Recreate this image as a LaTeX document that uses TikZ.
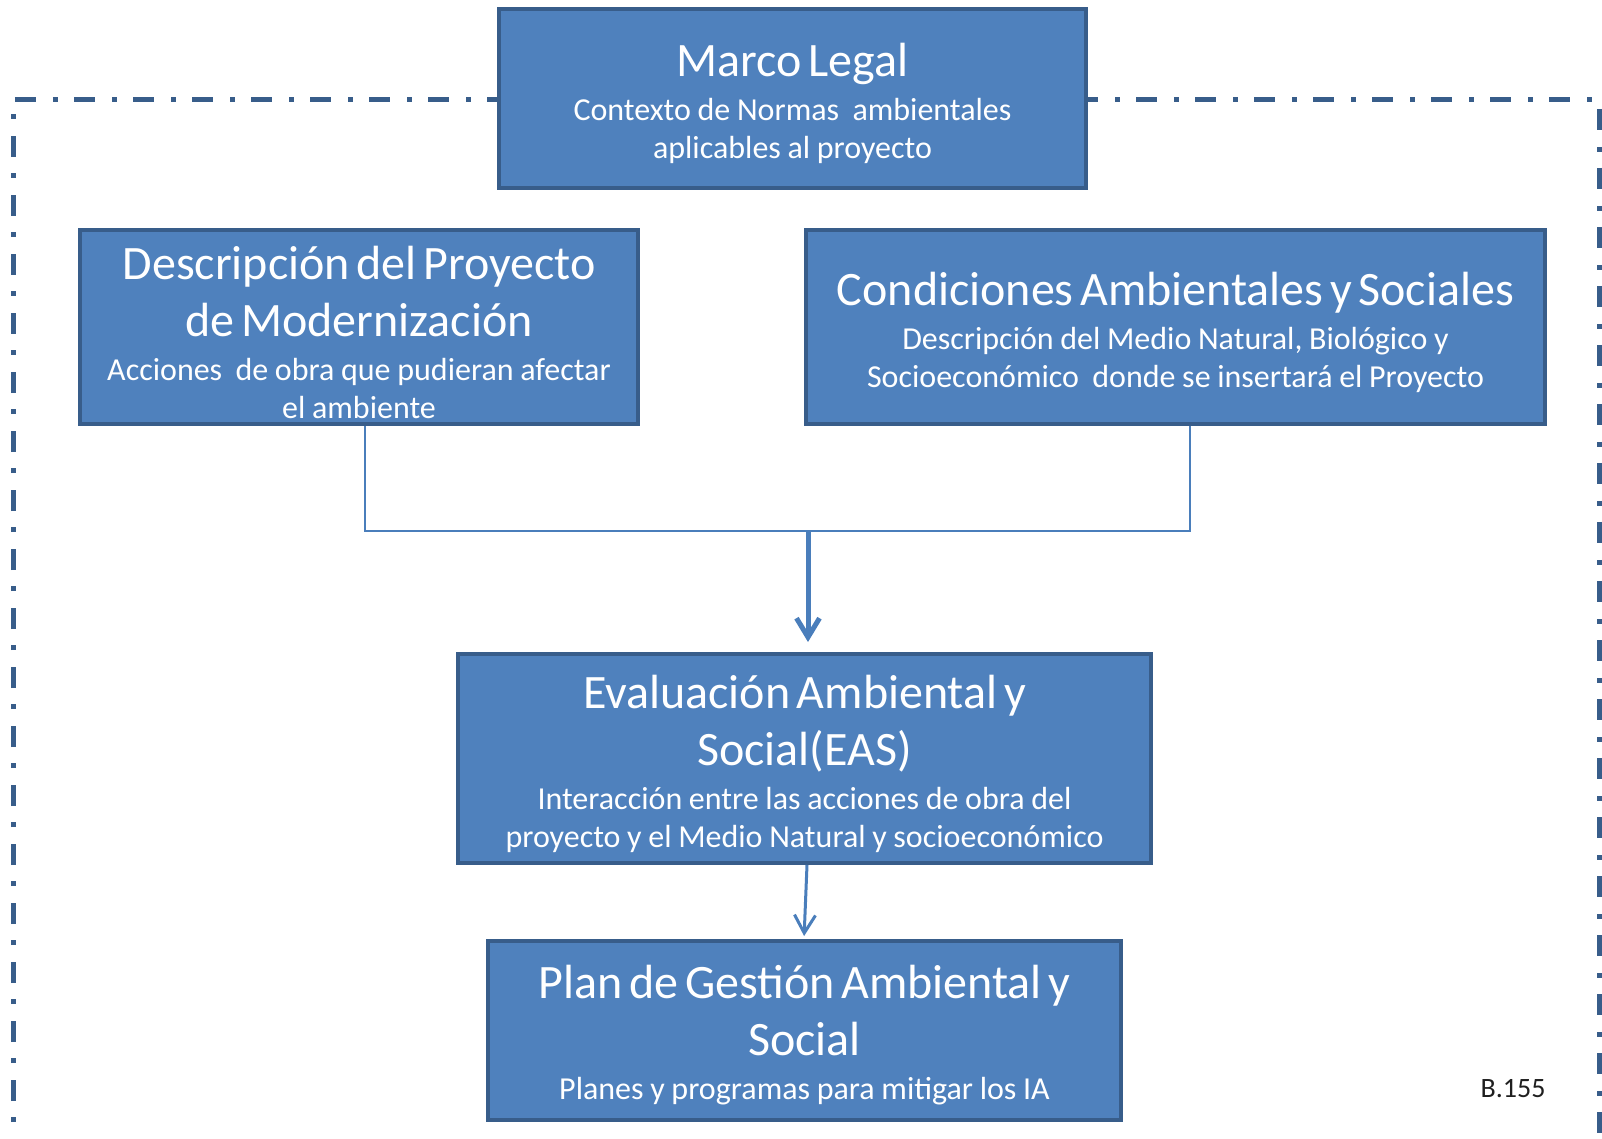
\documentclass[tikz,border=0pt]{standalone}
\usepackage{fontspec}
\setmainfont{Carlito}
\usetikzlibrary{arrows.meta}

\definecolor{azul}{HTML}{4F81BD}
\definecolor{bordeazul}{HTML}{385D8A}
\definecolor{lineazul}{HTML}{4A7EBB}
\newcommand{\titulo}{\fontsize{24pt}{28.5pt}\selectfont}
\newcommand{\subtitulo}{\par\vspace{3pt}\fontsize{16pt}{19pt}\selectfont}

\tikzset{
  caja/.style 2 args={draw=bordeazul, fill=azul, line width=2pt, text=white,
    align=center, inner sep=0pt, minimum width=#1, minimum height=#2, text width=#1,
    execute at end node=\vspace{-5pt}},
  conector/.style={draw=lineazul, line width=1pt},
  flecha/.style={draw=lineazul, line width=1.5pt, -{Straight Barb[length=9pt,width=10.5pt]}},
  flechagruesa/.style={draw=lineazul, line width=2.5pt, -{Straight Barb[length=9.5pt,width=11.5pt]}},
  marco/.style={draw=bordeazul, line width=2.5pt, dash pattern=on 10.5pt off 8.5pt on 2.5pt off 8pt}
}

\begin{document}
\begin{tikzpicture}[x=0.5pt, y=-0.5pt]
  \clip (0,0) rectangle (1602,1139);
  % Marco punteado (abierto por abajo)
  \draw[marco] (13,1160) -- (13,100) -- (1599,100) -- (1599,1160);

  % Cajas
  \node[caja={293.5pt}{89.5pt}] (legal) at (792.5,98.5)
    {\titulo Marco Legal\subtitulo Contexto de Normas~ ambientales\par aplicables al proyecto\par};
  \node[caja={279pt}{97pt}] (desc) at (359,327)
    {\titulo Descripción del Proyecto\par de Modernización\subtitulo Acciones~ de obra que pudieran afectar\par el ambiente\par};
  \node[caja={369.5pt}{97pt}] (cond) at (1175.5,327)
    {\titulo Condiciones Ambientales y Sociales\subtitulo Descripción del Medio Natural, Biológico y\par Socioeconómico~ donde se insertará el Proyecto\par};
  \node[caja={346.5pt}{104.5pt}] (eas) at (804.5,758.5)
    {\titulo Evaluación Ambiental y\par Social(EAS)\subtitulo Interacción entre las acciones de obra del\par proyecto y el Medio Natural y socioeconómico\par};
  \node[caja={316.5pt}{89.5pt}] (plan) at (804.5,1030.5)
    {\titulo Plan de Gestión Ambiental y\par Social\subtitulo Planes y programas para mitigar los IA\par};

  % Conectores
  \coordinate (une) at (808,531);
  \draw[conector] ([xshift=3pt]desc.south) |- (une) -| ([xshift=7.25pt]cond.south);
  \draw[flechagruesa, shorten >=5pt] (une) -- (une |- eas.north);
  \draw[flecha, shorten >=1.5pt] ([xshift=1.25pt]eas.south) -- ([xshift=-0.25pt]plan.north);

  % Numero de hoja
  \node[font=\fontsize{14pt}{16pt}\selectfont, text=black!88] (hoja) at (1513,1089) {B.155};
\end{tikzpicture}
\end{document}
